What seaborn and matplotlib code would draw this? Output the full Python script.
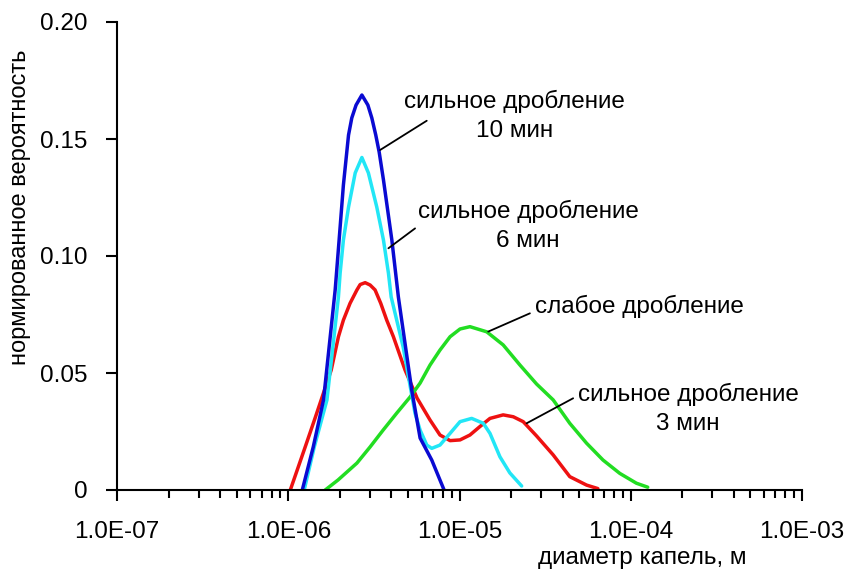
import matplotlib
matplotlib.use("Agg")
import matplotlib.pyplot as plt
import matplotlib.ticker as mticker
import seaborn as sns
import pandas as pd

# log10 of droplet diameter (m) and normalised probability
blue_logd = [-5.918, -5.854, -5.794, -5.726, -5.703, -5.678, -5.648, -5.629, -5.604, -5.570, -5.535,
             -5.512, -5.489, -5.469, -5.444, -5.395, -5.357, -5.279, -5.230, -5.162, -5.090]
blue_v = [0, 0.0184, 0.0385, 0.0855, 0.1068, 0.1303, 0.1517, 0.1590, 0.1645, 0.1688, 0.1645,
          0.1590, 0.1517, 0.1444, 0.1325, 0.1068, 0.0825, 0.0427, 0.0222, 0.0128, 0]

cyan_logd = [-5.907, -5.848, -5.774, -5.707, -5.697, -5.678, -5.648, -5.609, -5.570, -5.532, -5.483, -5.444,
             -5.415, -5.399, -5.329, -5.260, -5.230, -5.191, -5.162, -5.114, -5.055, -4.997, -4.929, -4.861,
             -4.822, -4.764, -4.706, -4.637]
cyan_v = [0, 0.0184, 0.0385, 0.0825, 0.0927, 0.1068, 0.1209, 0.1355, 0.1421, 0.1355, 0.1209, 0.1068,
          0.0927, 0.0825, 0.0611, 0.0329, 0.0256, 0.0192, 0.0178, 0.0192, 0.0242, 0.0292, 0.0306, 0.0285,
          0.0242, 0.0142, 0.0073, 0.0017]

red_logd = [-5.988, -5.901, -5.843, -5.794, -5.749, -5.707, -5.678, -5.639, -5.599, -5.580, -5.551, -5.522,
            -5.493, -5.460, -5.425, -5.386, -5.318, -5.248, -5.172, -5.114, -5.055, -4.997, -4.939, -4.881,
            -4.822, -4.745, -4.686, -4.628, -4.550, -4.453, -4.356, -4.258, -4.192]
red_v = [0, 0.0184, 0.0308, 0.0415, 0.0513, 0.0655, 0.0726, 0.0798, 0.0855, 0.0878, 0.0886, 0.0876,
         0.0855, 0.0798, 0.0726, 0.0655, 0.0513, 0.0393, 0.0299, 0.0235, 0.0211, 0.0214, 0.0235, 0.0271,
         0.0306, 0.0321, 0.0313, 0.0292, 0.0231, 0.0150, 0.0057, 0.0021, 0.0006]

green_logd = [-5.784, -5.709, -5.599, -5.522, -5.446, -5.366, -5.289, -5.230, -5.172, -5.114, -5.055, -4.997,
              -4.939, -4.841, -4.745, -4.647, -4.550, -4.453, -4.356, -4.258, -4.162, -4.064, -3.967, -3.901]
green_v = [0, 0.0043, 0.0115, 0.0184, 0.0256, 0.0329, 0.0397, 0.0457, 0.0534, 0.0598, 0.0655, 0.0688,
           0.0698, 0.0676, 0.0620, 0.0534, 0.0453, 0.0385, 0.0285, 0.0200, 0.0128, 0.0071, 0.0029, 0.0012]

x_ticks = [1e-7, 1e-6, 1e-5, 1e-4, 1e-3]
y_ticks = [0, 0.05, 0.10, 0.15, 0.20]
y_tick_labels = ["0", "0.05", "0.10", "0.15", "0.20"]

sns.set_style("ticks")
plt.rcParams["font.family"] = ["Liberation Sans", "DejaVu Sans"]
plt.rcParams["text.color"] = "black"
plt.rcParams["axes.labelcolor"] = "black"
plt.rcParams["xtick.color"] = "black"
plt.rcParams["ytick.color"] = "black"

fig = plt.figure(figsize=(8.45, 5.71), dpi=100)
ax = fig.add_axes([117 / 845, 81 / 571, 685 / 845, 468 / 571])
ax.set_xscale("log")

series = [
    (red_logd, red_v, "#ee1111"),
    (green_logd, green_v, "#22dd22"),
    (cyan_logd, cyan_v, "#22e6f6"),
    (blue_logd, blue_v, "#0a0ad2"),
]
for ld, v, c in series:
    df = pd.DataFrame({"d": [10 ** x for x in ld], "v": v})
    sns.lineplot(data=df, x="d", y="v", ax=ax, color=c, linewidth=2.5, sort=False,
                 solid_joinstyle="round", solid_capstyle="round")

ax.set_xlim(1e-7, 1e-3)
ax.set_ylim(0, 0.2)
ax.set_xticks(x_ticks)
ax.xaxis.set_major_formatter(mticker.FuncFormatter(lambda x, p: f"{x:.1E}"))
ax.xaxis.set_minor_locator(mticker.LogLocator(base=10, subs=range(2, 10)))
ax.xaxis.set_minor_formatter(mticker.NullFormatter())
ax.set_yticks(y_ticks)
ax.set_yticklabels(y_tick_labels)

for s in ["top", "right"]:
    ax.spines[s].set_visible(False)
for s in ["left", "bottom"]:
    ax.spines[s].set_linewidth(1.5)
    ax.spines[s].set_color("black")
ax.tick_params(axis="both", which="major", length=8, width=1.5, labelsize=17.5, colors="black",
               labelcolor="black")
ax.tick_params(axis="x", which="major", pad=14)
ax.tick_params(axis="y", which="major", pad=13)
ax.tick_params(axis="x", which="minor", length=6, width=1.5, colors="black")

ax.set_xlabel("диаметр капель, м", fontsize=17.5, color="black")
ax.set_ylabel("нормированное вероятность", fontsize=17, color="black")
ax.xaxis.set_label_coords(0.767, -0.121)
ax.yaxis.set_label_coords(-0.1255, 0.605)

lk = dict(arrowstyle="-", color="black", lw=1.3, shrinkA=0, shrinkB=0)
ax.annotate("", xy=(3.439e-6, 0.1453), xytext=(6.437e-6, 0.1578), arrowprops=lk)
ax.annotate("", xy=(3.845e-6, 0.1033), xytext=(5.502e-6, 0.1118), arrowprops=lk)
ax.annotate("", xy=(14.72e-6, 0.0677), xytext=(25.77e-6, 0.0755), arrowprops=lk)
ax.annotate("", xy=(24.65e-6, 0.0285), xytext=(46.09e-6, 0.0392), arrowprops=lk)

tk = dict(ha="center", va="center", fontsize=17.5, linespacing=1.4, multialignment="center", color="black")
ax.text(21.07e-6, 0.1598, "сильное дробление\n10 мин", **tk)
ax.text(25.19e-6, 0.1129, "сильное дробление\n6 мин", **tk)
ax.text(112.9e-6, 0.0783, "слабое дробление", **tk)
ax.text(215.9e-6, 0.0345, "сильное дробление\n3 мин", **tk)

fig.savefig("out.png", dpi=100)
